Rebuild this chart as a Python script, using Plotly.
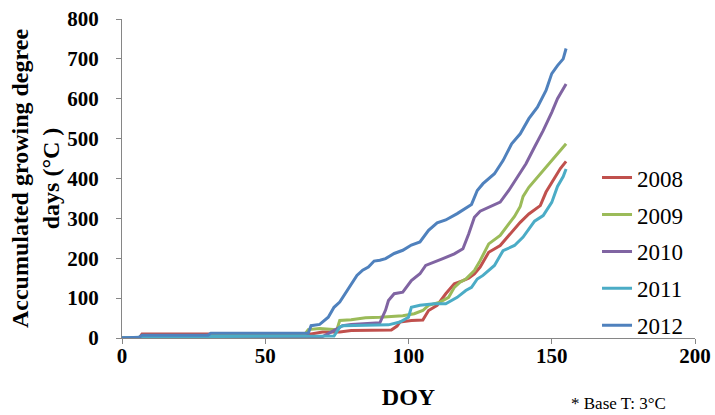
import plotly.graph_objects as go

# ---- data ----
years = ["2008", "2009", "2010", "2011", "2012"]

doy_2008 = [0, 6, 7, 66, 70, 76, 80, 94, 96, 97, 101, 105, 107, 110, 113, 116, 119, 121, 123, 125,
            128, 132, 135, 139, 142, 146, 148, 151, 153, 155]
gdd_2008 = [0, 0, 10, 10, 15, 15, 19, 20, 30, 40, 44, 45, 69, 82, 111, 136, 144, 150, 161, 178,
            215, 232, 257, 290, 311, 332, 366, 400, 425, 443]

doy_2009 = [0, 30, 31, 64, 65, 69, 75, 76, 80, 85, 90, 98, 102, 105, 107, 111, 114, 116, 118, 120,
            123, 125, 128, 132, 135, 137, 139, 140, 142, 144, 146, 149, 152, 155]
gdd_2009 = [0, 0, 10, 11, 21, 24, 21, 44, 46, 51, 52, 56, 61, 69, 82, 90, 102, 127, 140, 148,
            169, 194, 236, 257, 286, 305, 330, 355, 378, 395, 410, 437, 462, 487]

doy_2010 = [0, 69, 72, 77, 80, 90, 92, 93, 95, 98, 101, 104, 106, 109, 112, 116, 119, 121, 123, 125,
            128, 132, 135, 138, 141, 144, 147, 150, 152, 155]
gdd_2010 = [0, 0, 11, 31, 34, 38, 70, 94, 111, 115, 144, 161, 182, 190, 199, 211, 224, 261, 303, 318,
            328, 341, 370, 403, 437, 479, 520, 566, 600, 637]

doy_2011 = [0, 10, 74, 76, 77, 93, 97, 100, 101, 104, 109, 113, 117, 120, 122, 124, 126, 130, 133, 137,
            140, 144, 147, 150, 152, 154, 155]
gdd_2011 = [0, 3, 5, 27, 31, 33, 40, 52, 77, 82, 86, 86, 102, 119, 127, 148, 157, 182, 219, 232,
            253, 293, 307, 340, 380, 405, 424]

doy_2012 = [0, 6, 7, 30, 31, 65, 66, 69, 72, 74, 76, 78, 80, 82, 84, 86, 88, 90, 92, 95, 98, 101, 104,
            107, 110, 113, 117, 120, 122, 124, 126, 130, 133, 136, 139, 142, 145, 148, 150, 152, 154, 155]
gdd_2012 = [0, 2, 7, 7, 12, 12, 31, 34, 52, 77, 90, 112, 136, 157, 170, 178, 193, 195, 199, 212, 220, 233, 241,
            270, 289, 296, 312, 325, 335, 370, 387, 412, 445, 487, 512, 550, 579, 621, 663, 683, 700, 726]

series_x = [doy_2008, doy_2009, doy_2010, doy_2011, doy_2012]
series_y = [gdd_2008, gdd_2009, gdd_2010, gdd_2011, gdd_2012]
colors = ["#C0504D", "#9BBB59", "#8064A2", "#4BACC6", "#4F81BD"]

x_ticks = [0, 50, 100, 150, 200]
y_ticks = [0, 100, 200, 300, 400, 500, 600, 700, 800]

SERIF = "Liberation Serif"

fig = go.Figure()
for name, xs, ys, c in zip(years, series_x, series_y, colors):
    fig.add_trace(go.Scatter(x=xs, y=ys, mode="lines", name=name, legendgroup=name,
                             line=dict(color=c, width=3)))

fig.update_layout(
    width=715, height=415,
    margin=dict(l=122, r=20, t=19, b=77, autoexpand=False),
    paper_bgcolor="white", plot_bgcolor="white",
    font=dict(family=SERIF, color="black"),
    legend=dict(x=0.829, y=0.57, xanchor="left", yanchor="top",
                font=dict(family=SERIF, size=23, color="black"),
                tracegroupgap=4, bgcolor="rgba(0,0,0,0)", itemwidth=30),
    showlegend=True,
)
fig.update_xaxes(range=[0, 200], tickvals=x_ticks, showline=True, linecolor="#868686", linewidth=1,
                 ticks="outside", ticklen=5, tickcolor="#868686", showgrid=False, zeroline=False,
                 automargin=False, ticklabelstandoff=-6, ticklabeloverflow="allow",
                 tickfont=dict(family=SERIF, size=21, weight="bold"),
                 title=dict(text="DOY", font=dict(family=SERIF, size=24, weight="bold"), standoff=20))
fig.update_yaxes(range=[0, 800], tickvals=y_ticks, showline=True, linecolor="#868686", linewidth=1,
                 ticks="outside", ticklen=5, tickcolor="#868686", showgrid=False, zeroline=False,
                 automargin=False, ticklabelstandoff=13, ticklabeloverflow="allow",
                 tickfont=dict(family=SERIF, size=21, weight="bold"),
                 title=dict(text="Accumulated growing degree<br>days (°C )",
                            font=dict(family=SERIF, size=24, weight="bold"), standoff=0))
fig.add_annotation(text="* Base T: 3°C", xref="paper", yref="paper", x=0.78, y=-0.204,
                   xanchor="left", yanchor="middle", showarrow=False,
                   font=dict(family=SERIF, size=17, color="black"))

# remove the default page margin so the figure sits at the window's top-left corner
fig.write_html("out.html", config={"displayModeBar": False},
               post_script="document.body.style.margin='0';document.body.style.overflow='hidden';")
